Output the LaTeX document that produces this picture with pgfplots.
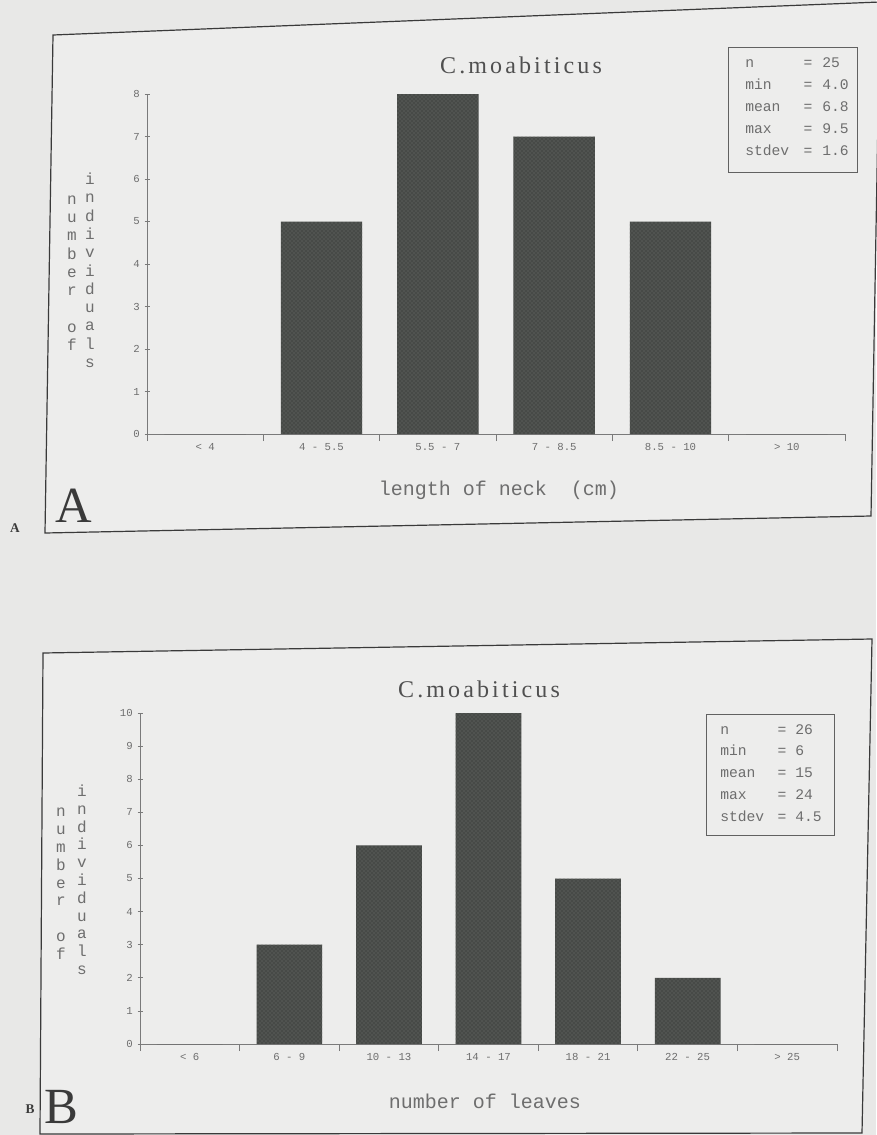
\documentclass[border=0pt]{standalone}
\usepackage{fontspec}
\setmainfont{Liberation Serif}
\newfontfamily\mono{Liberation Mono}
\usepackage{pgfplots}
\usepackage{pgfplotstable}
\pgfplotsset{compat=1.18}
\usetikzlibrary{patterns}
\definecolor{paper}{HTML}{E8E8E7}
\definecolor{panel}{HTML}{EDEDEC}
\definecolor{barfill}{HTML}{474A47}
\definecolor{bardot}{HTML}{6F726F}
\definecolor{axisgray}{HTML}{7A7A7A}
\definecolor{txtgray}{HTML}{6E6E6E}
\definecolor{framec}{HTML}{3A3A3A}
\definecolor{titlec}{HTML}{505050}
\newcommand\px{0.75pt}

\pgfplotstableread{
x y
0 0
1 5
2 8
3 7
4 5
5 0
}\dataA

\pgfplotstableread{
x y
0 0
1 3
2 6
3 10
4 5
5 2
6 0
}\dataB

\pgfplotsset{histo/.style={
  scale only axis, axis lines=left,
  axis line style={-, draw=axisgray, line width=0.7pt},
  ymin=0, tick align=center,
  major tick length=5*0.75pt, minor tick length=7*0.75pt,
  tick style={draw=axisgray, line width=0.6pt},
  major x tick style={draw=none},
  ticklabel style={font=\mono\fontsize{8}{9}\selectfont, text=txtgray},
  /pgf/number format/assume math mode=true,
  ybar, bar width=0.7, clip=false,
}}

\newcommand\ylabfont{\mono\fontsize{12}{12}\selectfont}
\newcommand\titlefont{\fontsize{18}{20}\selectfont\addfontfeature{LetterSpace=13}}
\newcommand\statfont{\mono\fontsize{11}{11}\selectfont}
\newcommand\xlabfont{\mono\fontsize{15}{15}\selectfont}

\begin{document}
\begin{tikzpicture}
\begin{scope}[x=0.75pt,y=-0.75pt]
  \fill[paper] (0,0) rectangle (876,1135);
  % frames
  \filldraw[fill=panel, draw=framec, line width=0.9pt] (53,35) -- (880,2) -- (871,516) -- (45,533) -- cycle;
  \filldraw[fill=panel, draw=framec, line width=0.9pt] (43,653) -- (872,639) -- (862,1133) -- (40,1134) -- cycle;
\end{scope}

% ---------- Panel A ----------
\begin{axis}[histo,
  at={(147*\px,-434*\px)}, anchor=south west,
  width=698*\px, height=340*\px,
  xmin=-0.5, xmax=5.5, ymax=8,
  xtick={0,...,5},
  xticklabels={{< 4},{4 - 5.5},{5.5 - 7},{7 - 8.5},{8.5 - 10},{> 10}},
  minor xtick={-0.5,0.5,...,5.5},
  ytick={0,...,8},
]
\addplot[fill=barfill, draw=none,
  postaction={pattern=crosshatch dots, pattern color=bardot}]
  table[x=x,y=y]{\dataA};
\end{axis}

% ---------- Panel B ----------
\begin{axis}[histo,
  at={(140*\px,-1044*\px)}, anchor=south west,
  width=697*\px, height=331*\px,
  xmin=-0.5, xmax=6.5, ymax=10,
  xtick={0,...,6},
  xticklabels={{< 6},{6 - 9},{10 - 13},{14 - 17},{18 - 21},{22 - 25},{> 25}},
  minor xtick={-0.5,0.5,...,6.5},
  ytick={0,...,10},
  bar width=0.66,
]
\addplot[fill=barfill, draw=none,
  postaction={pattern=crosshatch dots, pattern color=bardot}]
  table[x=x,y=y]{\dataB};
\end{axis}

\begin{scope}[x=0.75pt,y=-0.75pt]
  % titles
  \node[font=\titlefont, text=titlec, anchor=base] at (521,73) {C.moabiticus};
  \node[font=\titlefont, text=titlec, anchor=base] at (479,697) {C.moabiticus};
  % x labels
  \node[font=\xlabfont, text=txtgray, anchor=base] at (499,495) {length of neck~~(cm)};
  \node[font=\xlabfont, text=txtgray, anchor=base] at (485,1108) {number of leaves};
  % y labels A
  \foreach \c [count=\i from 0] in {i,n,d,i,v,i,d,u,a,l,s}
    \node[font=\ylabfont, text=txtgray, anchor=base] at (90,{184.5+\i*18.3}) {\c};
  \foreach \c [count=\i from 1] in {n,u,m,b,e,r}
    \node[font=\ylabfont, text=txtgray, anchor=base] at (72,{186+\i*18.3}) {\c};
  \node[font=\ylabfont, text=txtgray, anchor=base] at (72,{186+8*18.3}) {o};
  \node[font=\ylabfont, text=txtgray, anchor=base] at (72,{186+9*18.3}) {f};
  % y labels B
  \foreach \c [count=\i from 0] in {i,n,d,i,v,i,d,u,a,l,s}
    \node[font=\ylabfont, text=txtgray, anchor=base] at (82,{796.5+\i*17.8}) {\c};
  \foreach \c [count=\i from 1] in {n,u,m,b,e,r}
    \node[font=\ylabfont, text=txtgray, anchor=base] at (61,{799+\i*17.8}) {\c};
  \node[font=\ylabfont, text=txtgray, anchor=base] at (61,{799+8*17.8}) {o};
  \node[font=\ylabfont, text=txtgray, anchor=base] at (61,{799+9*17.8}) {f};
  % stats box A
  \draw[framec!80, line width=0.7pt] (728,47) rectangle (857,172);
  \foreach \l/\v [count=\i from 0] in {n/25,min/4.0,mean/6.8,max/9.5,stdev/1.6}{
    \node[font=\statfont, text=txtgray, anchor=base west, inner sep=0pt] at (745,{67+\i*22.2}) {\l};
    \node[font=\statfont, text=txtgray, anchor=base, inner sep=0pt] at (808,{67+\i*22.2}) {=};
    \node[font=\statfont, text=txtgray, anchor=base west, inner sep=0pt] at (822,{67+\i*22.2}) {\v};
  }
  % stats box B
  \draw[framec!80, line width=0.7pt] (706,714) rectangle (834,835);
  \foreach \l/\v [count=\i from 0] in {n/26,min/6,mean/15,max/24,stdev/4.5}{
    \node[font=\statfont, text=txtgray, anchor=base west, inner sep=0pt] at (720,{734+\i*21.8}) {\l};
    \node[font=\statfont, text=txtgray, anchor=base, inner sep=0pt] at (782,{734+\i*21.8}) {=};
    \node[font=\statfont, text=txtgray, anchor=base west, inner sep=0pt] at (795,{734+\i*21.8}) {\v};
  }
  % panel letters
  \node[font=\fontsize{38}{40}\selectfont, text=framec, anchor=base] at (74,522) {A};
  \node[font=\fontsize{38}{40}\selectfont, text=framec, anchor=base] at (61,1123) {B};
  \node[font=\bfseries\fontsize{10}{10}\selectfont, text=framec, anchor=base] at (15,532) {A};
  \node[font=\bfseries\fontsize{10}{10}\selectfont, text=framec, anchor=base] at (30,1113) {B};
  \pgfresetboundingbox
  \path[use as bounding box] (0,0) rectangle (876,1135);
\end{scope}
\end{tikzpicture}
\end{document}
